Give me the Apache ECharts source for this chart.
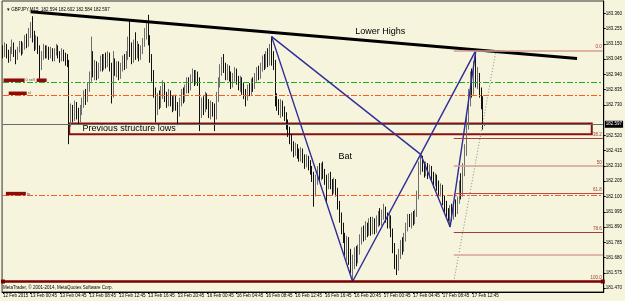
<!DOCTYPE html>
<html lang="en">
<head>
  <meta charset="UTF-8">
  <script src="https://cdn.jsdelivr.net/npm/echarts@6/dist/echarts.min.js"></script>
  <title>GBPJPY M15</title>
  <style>
    html, body { margin: 0; padding: 0; background: #f6f4dc; }
    #chart { width: 625px; height: 301px; }
  </style>
</head>
<body>
  <div id="chart"></div>
  <script>
    // M15 candles, [open, close, low, high]
    const candles = [
      [183.12,183.08,183.05,183.14],[183.08,183.13,183.06,183.16],[183.13,183.09,183.05,183.15],[183.09,183.05,183.02,183.11],[183.05,183.10,183.03,183.13],[183.10,183.14,183.08,183.18],[183.14,183.08,183.06,183.16],[183.08,183.05,183.01,183.11],
      [183.05,183.11,183.04,183.13],[183.11,183.15,183.09,183.17],[183.15,183.10,183.07,183.17],[183.10,183.13,183.08,183.16],[183.13,183.18,183.11,183.21],[183.18,183.15,183.12,183.22],[183.15,183.22,183.13,183.26],[183.22,183.27,183.19,183.30],
      [183.27,183.21,183.16,183.34],[183.21,183.14,183.10,183.24],[183.14,183.18,183.11,183.21],[183.18,183.12,183.08,183.20],[183.12,183.02,182.91,183.14],[183.02,183.07,182.97,183.10],[183.07,183.12,183.04,183.15],[183.12,183.08,183.05,183.14],
      [183.08,183.11,183.05,183.14],[183.11,183.07,183.04,183.13],[183.07,183.10,183.05,183.13],[183.10,183.06,183.03,183.12],[183.06,183.09,183.03,183.12],[183.09,183.12,183.07,183.15],[183.12,183.08,183.05,183.14],[183.08,183.05,183.02,183.10],
      [183.05,183.09,183.03,183.12],[183.09,183.06,183.03,183.11],[183.06,183.04,183.00,183.09],[183.04,183.02,182.99,183.08],[183.02,182.62,182.46,183.04],[182.62,182.70,182.58,182.74],[182.70,182.66,182.61,182.73],[182.66,182.72,182.62,182.76],
      [182.72,182.68,182.63,182.75],[182.68,182.64,182.60,182.71],[182.64,182.70,182.61,182.73],[182.70,182.74,182.66,182.78],[182.74,182.80,182.71,182.83],[182.80,182.77,182.73,182.84],[182.77,182.85,182.75,182.88],[182.85,182.92,182.82,182.96],
      [182.92,183.02,182.89,183.20],[183.02,182.96,182.92,183.10],[182.96,183.00,182.90,183.04],[183.00,182.94,182.90,183.03],[182.94,182.99,182.91,183.02],[182.99,183.04,182.96,183.07],[183.04,183.00,182.96,183.08],[183.00,183.05,182.97,183.08],
      [183.05,183.02,182.98,183.09],[183.02,183.06,182.99,183.10],[183.06,183.00,182.96,183.09],[183.00,182.80,182.74,183.02],[182.80,183.02,182.78,183.10],[183.02,182.97,182.93,183.05],[182.97,183.00,182.92,183.03],[183.00,182.95,182.90,183.03],
      [182.95,182.99,182.91,183.02],[182.99,183.04,182.96,183.07],[183.04,183.00,182.97,183.08],[183.00,183.07,182.98,183.10],[183.07,183.15,183.04,183.20],[183.15,183.10,183.06,183.31],[183.10,183.05,183.01,183.16],[183.05,183.12,183.02,183.18],
      [183.12,183.08,183.04,183.23],[183.08,183.13,183.05,183.17],[183.13,183.07,183.03,183.15],[183.07,183.11,183.04,183.14],[183.11,183.16,183.08,183.19],[183.16,183.22,183.13,183.26],[183.22,183.28,183.18,183.31],[183.28,183.18,183.14,183.35],
      [183.18,183.06,183.02,183.21],[183.06,182.94,182.89,183.08],[182.94,182.82,182.78,182.97],[182.82,182.70,182.61,182.85],[182.70,182.78,182.66,182.81],[182.78,182.74,182.70,182.83],[182.74,182.80,182.71,182.86],[182.80,182.85,182.77,182.90],
      [182.85,182.79,182.75,182.88],[182.79,182.75,182.71,182.82],[182.75,182.80,182.72,182.84],[182.80,182.76,182.72,182.83],[182.76,182.72,182.68,182.79],[182.72,182.77,182.69,182.80],[182.77,182.73,182.69,182.80],[182.73,182.68,182.59,182.75],
      [182.68,182.75,182.65,182.78],[182.75,182.81,182.72,182.84],[182.81,182.78,182.74,182.85],[182.78,182.84,182.75,182.87],[182.84,182.89,182.81,182.92],[182.89,182.85,182.81,182.92],[182.85,182.91,182.83,182.94],[182.91,182.95,182.88,182.98],
      [182.95,182.90,182.86,182.97],[182.90,182.94,182.87,182.97],[182.94,182.90,182.86,182.96],[182.90,182.70,182.55,182.92],[182.70,182.75,182.64,182.78],[182.75,182.71,182.66,182.79],[182.71,182.78,182.68,182.82],[182.78,182.74,182.70,182.81],
      [182.74,182.69,182.64,182.77],[182.69,182.73,182.63,182.76],[182.73,182.70,182.65,182.75],[182.70,182.66,182.55,182.74],[182.66,182.78,182.63,182.82],[182.78,182.88,182.75,182.92],[182.88,182.97,182.85,183.01],[182.97,183.03,182.93,183.06],
      [183.03,182.99,182.95,183.08],[182.99,182.94,182.90,183.02],[182.94,182.98,182.90,183.01],[182.98,182.93,182.89,183.00],[182.93,182.88,182.84,182.96],[182.88,182.92,182.85,182.95],[182.92,182.96,182.89,182.99],[182.96,182.91,182.87,182.98],
      [182.91,182.87,182.83,182.93],[182.87,182.90,182.82,182.93],[182.90,182.85,182.80,182.92],[182.85,182.81,182.77,182.88],[182.81,182.78,182.72,182.84],[182.78,182.84,182.76,182.87],[182.84,182.82,182.79,182.88],[182.82,182.88,182.80,182.91],
      [182.88,182.86,182.82,182.92],[182.86,182.92,182.84,182.95],[182.92,182.96,182.89,182.99],[182.96,182.93,182.90,183.00],[182.93,182.99,182.91,183.02],[182.99,183.04,182.96,183.07],[183.04,183.00,182.97,183.08],[183.00,183.06,182.98,183.10],
      [183.06,183.03,182.99,183.12],[183.03,183.10,183.00,183.15],[183.10,183.06,183.00,183.20],[183.06,183.02,182.97,183.10],[183.02,182.78,182.72,183.04],[182.78,182.74,182.69,182.81],[182.74,182.70,182.66,182.77],[182.70,182.74,182.64,182.77],
      [182.74,182.69,182.65,182.76],[182.69,182.66,182.62,182.72],[182.66,182.60,182.56,182.68],[182.60,182.55,182.51,182.63],[182.55,182.50,182.46,182.58],[182.50,182.45,182.41,182.53],[182.45,182.42,182.37,182.48],[182.42,182.44,182.38,182.47],
      [182.44,182.40,182.36,182.46],[182.40,182.37,182.34,182.43],[182.37,182.41,182.34,182.44],[182.41,182.37,182.33,182.43],[182.37,182.33,182.29,182.39],[182.33,182.36,182.30,182.39],[182.36,182.32,182.28,182.38],[182.32,182.29,182.25,182.35],
      [182.29,182.25,182.20,182.31],[182.25,182.15,182.03,182.27],[182.15,182.22,182.10,182.25],[182.22,182.28,182.18,182.31],[182.28,182.24,182.20,182.33],[182.24,182.30,182.21,182.33],[182.30,182.26,182.22,182.34],[182.26,182.22,182.18,182.29],
      [182.22,182.18,182.06,182.25],[182.18,182.23,182.15,182.26],[182.23,182.19,182.15,182.27],[182.19,182.15,182.11,182.22],[182.15,182.20,182.12,182.23],[182.20,182.14,182.10,182.22],[182.14,182.05,182.01,182.16],[182.05,181.96,181.92,182.07],
      [181.96,181.88,181.84,181.99],[181.88,181.82,181.78,181.92],[181.82,181.74,181.68,181.85],[181.74,181.80,181.66,181.83],[181.80,181.70,181.63,181.82],[181.70,181.62,181.57,181.74],[181.62,181.66,181.515,181.70],[181.66,181.72,181.60,181.75],
      [181.72,181.67,181.62,181.76],[181.67,181.74,181.64,181.77],[181.74,181.80,181.70,181.84],[181.80,181.86,181.77,181.89],[181.86,181.83,181.79,181.90],[181.83,181.89,181.80,181.93],[181.89,181.86,181.82,181.92],[181.86,181.91,181.83,181.95],
      [181.91,181.87,181.83,181.96],[181.87,181.92,181.84,181.96],[181.92,181.88,181.84,181.95],[181.88,181.93,181.85,181.97],[181.93,181.97,181.89,182.00],[181.97,181.94,181.90,182.02],[181.94,181.98,181.90,182.01],[181.98,182.01,181.94,182.05],
      [182.01,181.96,181.92,182.03],[181.96,181.92,181.88,181.99],[181.92,181.95,181.88,181.99],[181.95,181.86,181.82,181.97],[181.86,181.76,181.71,181.88],[181.76,181.66,181.60,181.78],[181.66,181.62,181.56,181.70],[181.62,181.70,181.59,181.74],
      [181.70,181.77,181.67,181.80],[181.77,181.74,181.70,181.82],[181.74,181.82,181.72,181.85],[181.82,181.89,181.79,181.92],[181.89,181.95,181.86,181.98],[181.95,181.92,181.89,181.98],[181.92,181.96,181.88,181.99],[181.96,181.93,181.90,182.00],
      [181.93,181.98,181.91,182.01],[181.98,182.11,181.96,182.14],[182.11,182.30,182.08,182.34],[182.30,182.35,182.25,182.39],[182.35,182.31,182.27,182.38],[182.31,182.27,182.23,182.34],[182.27,182.31,182.24,182.34],[182.31,182.26,182.22,182.33],
      [182.26,182.29,182.23,182.32],[182.29,182.24,182.20,182.31],[182.24,182.20,182.16,182.27],[182.20,182.23,182.17,182.26],[182.23,182.18,182.14,182.25],[182.18,182.13,182.10,182.21],[182.13,182.16,182.10,182.19],[182.16,182.08,182.04,182.18],
      [182.08,182.03,181.99,182.11],[182.03,181.99,181.96,182.07],[181.99,181.96,181.93,182.02],[181.96,182.00,181.89,182.04],[182.00,181.97,181.93,182.05],[181.97,182.03,181.94,182.06],[182.03,182.00,181.96,182.08],[182.00,182.07,181.98,182.10],
      [182.07,182.17,182.05,182.21],[182.17,182.12,182.08,182.26],[182.12,182.28,182.10,182.33],[182.28,182.42,182.24,182.46],[182.42,182.60,182.38,182.65],[182.60,182.78,182.56,182.84],[182.78,182.90,182.72,182.96],[182.90,182.84,182.78,182.98],
      [182.84,182.97,182.80,183.03],[182.97,182.90,182.85,183.105],[182.90,182.93,182.84,182.99],[182.93,182.82,182.78,182.95],[182.82,182.76,182.70,182.85],[182.76,182.594,182.56,182.79],[182.594,182.597,182.584,182.602]
    ];

    // time axis: 327 bar slots (last ones empty), labels every 16 bars
    const slotCount = 327;
    const tickIndex = [0, 15, 31, 47, 63, 79, 95, 111, 127, 143, 159, 175, 191, 207, 223, 239, 255];
    const tickLabels = ['12 Feb 2015', '13 Feb 00:45', '13 Feb 04:45', '13 Feb 08:45', '13 Feb 12:45',
      '13 Feb 16:45', '13 Feb 20:45', '16 Feb 00:45', '16 Feb 04:45', '16 Feb 08:45', '16 Feb 12:45',
      '16 Feb 16:45', '16 Feb 20:45', '17 Feb 00:45', '17 Feb 04:45', '17 Feb 08:45', '17 Feb 12:45'];

    const priceTicks = [181.470, 181.575, 181.680, 181.785, 181.890, 181.995, 182.100, 182.205, 182.310,
      182.415, 182.520, 182.730, 182.835, 182.940, 183.045, 183.150, 183.255, 183.360];

    // Bat pattern X, A, B, C, D
    const batIndex = [146, 190, 227, 243, 257];
    const batPrice = [183.20, 181.515, 182.39, 181.89, 183.105];

    // "Lower Highs" trendline
    const trendIndex = [15, 312];
    const trendPrice = [183.371, 183.05];

    // Fibonacci retracement D -> A
    const fibHigh = 183.105, fibLow = 181.515;
    const fibLevels = [0, 38.2, 50, 61.8, 78.6, 88.6, 100];
    const fibLabels = ['0.0', '38.2', '50', '61.8', '78.6', '', '100.0'];
    const fibStart = 245;
    const fibDiag = [[245, 181.515], [268, 183.105]];

    // order levels
    const sellPrice = 182.887, slPrice = 182.798, tpPrice = 182.109, bidPrice = 182.597;

    // structure box
    const boxIndex = [36, 320];
    const boxPrice = [182.603, 182.529];

    const FONT = 'Liberation Sans';
    const categories = [];
    for (let i = 0; i < slotCount; i++) categories.push(String(i));
    const tickMap = {};
    tickIndex.forEach((t, k) => { tickMap[t] = tickLabels[k]; });

    const batColor = '#2e2e96';
    const batLine = (a, b) => [
      { coord: [batIndex[a], batPrice[a]], lineStyle: { color: batColor, width: 1.4, type: 'solid' } },
      { coord: [batIndex[b], batPrice[b]] }
    ];
    const hLine = (p, style, label) => [
      { coord: [0, p], lineStyle: style, label: label || { show: false } },
      { coord: [slotCount - 1, p] }
    ];

    const fibColors = ['#d6a090', '#a04040', '#d2a294', '#b05050', '#a03c3c', '#e2b6aa', '#7a0000'];
    const fibWidths = [1.5, 1, 1.5, 1, 1, 2, 2.5];

    const lines = [];
    // order lines (drawn first, under the rest)
    const dashDot = [6, 2, 2, 2];
    lines.push(hLine(sellPrice, { color: '#22a822', width: 1, type: dashDot }));
    lines.push(hLine(slPrice, { color: '#ff5a1a', width: 1.1, type: dashDot }));
    lines.push(hLine(tpPrice, { color: '#ff5a1a', width: 1.1, type: dashDot }));
    lines.push(hLine(bidPrice, { color: '#6a6a6a', width: 1, type: 'solid' }, {
      show: true, position: 'end', formatter: '182.597', color: '#fff', backgroundColor: '#000',
      fontSize: 4.5, fontFamily: FONT, padding: [1, 1, 1, 1], distance: 2
    }));
    // trendline
    lines.push([
      { coord: [trendIndex[0], trendPrice[0]], lineStyle: { color: '#000', width: 3, type: 'solid' } },
      { coord: [trendIndex[1], trendPrice[1]] }
    ]);
    // bat triangles XAB and BCD
    lines.push(batLine(0, 1), batLine(1, 2), batLine(2, 0), batLine(2, 3), batLine(3, 4), batLine(4, 2));
    // fib diagonal
    lines.push([
      { coord: fibDiag[0], lineStyle: { color: '#8a8a8a', width: 1, type: [1, 2] } },
      { coord: fibDiag[1] }
    ]);
    // fib levels
    fibLevels.forEach((lv, k) => {
      const p = fibHigh - (fibHigh - fibLow) * lv / 100;
      const lab = {
        show: fibLabels[k] !== '', formatter: fibLabels[k], position: 'insideEndTop',
        color: '#a0402a', fontSize: 4.5, fontFamily: FONT, distance: 1
      };
      const style = { color: fibColors[k], width: fibWidths[k], type: 'solid' };
      if (lv === 100) {
        lines.push(hLine(p, style, lab));
      } else {
        lines.push([
          { coord: [fibStart, p], lineStyle: style, label: lab },
          { coord: [slotCount - 1, p] }
        ]);
      }
    });

    const textPoint = (idx, price, text, pos, size) => ({
      coord: [idx, price], symbol: 'rect', symbolSize: 1,
      itemStyle: { color: 'rgba(0,0,0,0)' },
      label: { show: true, formatter: text, position: pos, color: '#000', fontSize: size, fontFamily: FONT, distance: 0 }
    });
    const tagPoint = (idx, price, w, text) => ({
      coord: [idx, price], symbol: 'rect', symbolSize: [w, 3.5],
      itemStyle: { color: '#8b0a0a' },
      label: { show: text !== '', formatter: text, position: 'right', color: '#555', fontSize: 4, fontFamily: FONT, distance: 1 }
    });

    const chart = echarts.init(document.getElementById('chart'));
    chart.setOption({
      animation: false,
      backgroundColor: '#f6f4dc',
      title: {
        text: '\u25be GBPJPY,M15  182.594 182.602 182.584 182.597',
        left: 2, top: 2,
        textStyle: { fontSize: 4.5, fontWeight: 'normal', color: '#000', fontFamily: FONT }
      },
      graphic: [{
        type: 'text', left: 3, top: 285.5,
        style: { text: 'MetaTrader, \u00a9 2001-2014, MetaQuotes Software Corp.', fontSize: 4.5, fill: '#000', fontFamily: FONT }
      }],
      grid: { left: 1, right: 20, top: 1, bottom: 9, show: true, borderColor: '#333', borderWidth: 1 },
      xAxis: {
        type: 'category',
        data: categories,
        boundaryGap: true,
        axisLine: { show: true, lineStyle: { color: '#000', width: 1 } },
        axisTick: {
          show: true, alignWithLabel: true, length: 2,
          interval: (i) => tickMap[i] !== undefined,
          lineStyle: { color: '#000' }
        },
        axisLabel: {
          interval: (i) => tickMap[i] !== undefined,
          formatter: (v, i) => tickMap[i] || '',
          align: 'left', margin: 1.5, fontSize: 4.5, color: '#000', fontFamily: FONT
        },
        splitLine: { show: false }
      },
      yAxis: {
        type: 'value',
        position: 'right',
        min: 181.443,
        max: 183.445,
        axisLine: { show: true, lineStyle: { color: '#000', width: 1 } },
        axisTick: { show: true, length: 2, customValues: priceTicks, lineStyle: { color: '#000' } },
        axisLabel: {
          customValues: priceTicks, formatter: (v) => v.toFixed(3),
          fontSize: 4.5, margin: 2, color: '#000', fontFamily: FONT
        },
        splitLine: { show: false }
      },
      series: [{
        type: 'candlestick',
        data: candles,
        barWidth: 1.3,
        silent: true,
        itemStyle: {
          color: '#999', borderColor: '#6e6e6e',
          color0: '#111', borderColor0: '#111', borderWidth: 1
        },
        markArea: {
          silent: true,
          itemStyle: { color: 'rgba(0,0,0,0)', borderColor: '#8a1010', borderWidth: 2 },
          data: [[{ coord: [boxIndex[0], boxPrice[0]] }, { coord: [boxIndex[1], boxPrice[1]] }]]
        },
        markLine: {
          silent: true,
          symbol: ['none', 'none'],
          label: { show: false },
          data: lines
        },
        markPoint: {
          silent: true,
          data: [
            textPoint(205, 183.238, 'Lower Highs', 'inside', 9),
            textPoint(186, 182.378, 'Bat', 'inside', 9),
            textPoint(43, 182.565, 'Previous structure lows', 'right', 9),
            tagPoint(6, 182.90, 21, '0 sell'),
            tagPoint(21, 182.90, 10, ''),
            tagPoint(8, 182.81, 18, 'sl'),
            tagPoint(7, 182.12, 20, 'tp'),
            { coord: [0, fibLow], symbol: 'rect', symbolSize: 4, itemStyle: { color: '#7a0000' } },
            { coord: [slotCount - 1, fibLow], symbol: 'rect', symbolSize: 4, itemStyle: { color: '#7a0000' } }
          ]
        }
      }]
    });
  </script>
</body>
</html>
